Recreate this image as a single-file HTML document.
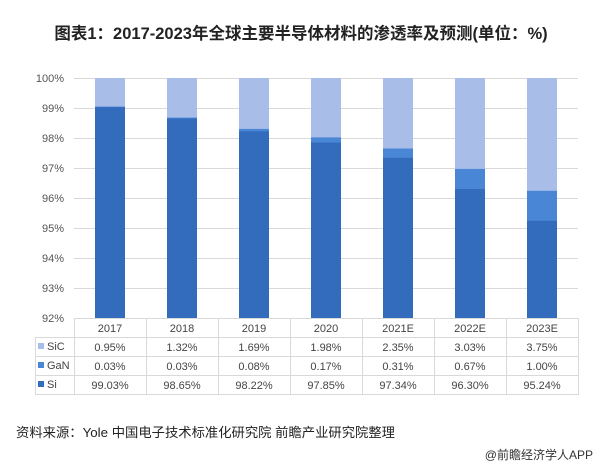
<!DOCTYPE html>
<html><head><meta charset="utf-8"><style>
html,body{margin:0;padding:0;background:#fff;}
svg{display:block;font-family:"Liberation Sans","Noto Sans CJK SC",sans-serif;}
</style></head><body>
<svg width="603" height="468" viewBox="0 0 603 468" xmlns="http://www.w3.org/2000/svg">
<text x="301" y="39" text-anchor="middle" font-size="16.5" font-weight="bold" fill="#222">图表1：2017-2023年全球主要半导体材料的渗透率及预测(单位：%)</text>
<g stroke="#d9d9d9" stroke-width="1">
<line x1="74" x2="578" y1="78.5" y2="78.5"/>
<line x1="74" x2="578" y1="108.5" y2="108.5"/>
<line x1="74" x2="578" y1="138.5" y2="138.5"/>
<line x1="74" x2="578" y1="168.5" y2="168.5"/>
<line x1="74" x2="578" y1="198.5" y2="198.5"/>
<line x1="74" x2="578" y1="228.5" y2="228.5"/>
<line x1="74" x2="578" y1="258.5" y2="258.5"/>
<line x1="74" x2="578" y1="288.5" y2="288.5"/>
<line x1="74" x2="578" y1="318.5" y2="318.5"/>
<line x1="35" x2="578" y1="337.5" y2="337.5"/>
<line x1="35" x2="578" y1="356.5" y2="356.5"/>
<line x1="35" x2="578" y1="375.5" y2="375.5"/>
<line x1="35" x2="578" y1="394.5" y2="394.5"/>
<line x1="35.5" x2="35.5" y1="337" y2="395"/>
<line x1="74.5" x2="74.5" y1="318" y2="395"/>
<line x1="146.5" x2="146.5" y1="318" y2="395"/>
<line x1="218.5" x2="218.5" y1="318" y2="395"/>
<line x1="290.5" x2="290.5" y1="318" y2="395"/>
<line x1="362.5" x2="362.5" y1="318" y2="395"/>
<line x1="434.5" x2="434.5" y1="318" y2="395"/>
<line x1="506.5" x2="506.5" y1="318" y2="395"/>
<line x1="578.5" x2="578.5" y1="318" y2="395"/>
</g>
<g font-size="11" fill="#555" text-anchor="end">
<text x="64" y="82">100%</text><text x="64" y="112">99%</text><text x="64" y="142">98%</text>
<text x="64" y="172">97%</text><text x="64" y="202">96%</text><text x="64" y="232">95%</text>
<text x="64" y="262">94%</text><text x="64" y="292">93%</text><text x="64" y="322">92%</text>
</g>
<g>
<rect x="95" y="78" width="30" height="240" fill="#a9bde9"/><rect x="95" y="106.6" width="30" height="211.4" fill="#4a86d6"/><rect x="95" y="107.1" width="30" height="210.9" fill="#346cbd"/>
<rect x="167" y="78" width="30" height="240" fill="#a9bde9"/><rect x="167" y="117.6" width="30" height="200.4" fill="#4a86d6"/><rect x="167" y="118.5" width="30" height="199.5" fill="#346cbd"/>
<rect x="239" y="78" width="30" height="240" fill="#a9bde9"/><rect x="239" y="128.9" width="30" height="189.1" fill="#4a86d6"/><rect x="239" y="131.4" width="30" height="186.6" fill="#346cbd"/>
<rect x="311" y="78" width="30" height="240" fill="#a9bde9"/><rect x="311" y="137.4" width="30" height="180.6" fill="#4a86d6"/><rect x="311" y="142.5" width="30" height="175.5" fill="#346cbd"/>
<rect x="383" y="78" width="30" height="240" fill="#a9bde9"/><rect x="383" y="148.5" width="30" height="169.5" fill="#4a86d6"/><rect x="383" y="157.8" width="30" height="160.2" fill="#346cbd"/>
<rect x="455" y="78" width="30" height="240" fill="#a9bde9"/><rect x="455" y="168.9" width="30" height="149.1" fill="#4a86d6"/><rect x="455" y="189" width="30" height="129" fill="#346cbd"/>
<rect x="527" y="78" width="30" height="240" fill="#a9bde9"/><rect x="527" y="190.8" width="30" height="127.2" fill="#4a86d6"/><rect x="527" y="220.8" width="30" height="97.2" fill="#346cbd"/>
</g>
<g font-size="11" fill="#444" text-anchor="middle">
<text x="110" y="332">2017</text><text x="182" y="332">2018</text><text x="254" y="332">2019</text><text x="326" y="332">2020</text><text x="398" y="332">2021E</text><text x="470" y="332">2022E</text><text x="542" y="332">2023E</text>
<text x="110" y="351">0.95%</text><text x="182" y="351">1.32%</text><text x="254" y="351">1.69%</text><text x="326" y="351">1.98%</text><text x="398" y="351">2.35%</text><text x="470" y="351">3.03%</text><text x="542" y="351">3.75%</text>
<text x="110" y="370">0.03%</text><text x="182" y="370">0.03%</text><text x="254" y="370">0.08%</text><text x="326" y="370">0.17%</text><text x="398" y="370">0.31%</text><text x="470" y="370">0.67%</text><text x="542" y="370">1.00%</text>
<text x="110" y="389">99.03%</text><text x="182" y="389">98.65%</text><text x="254" y="389">98.22%</text><text x="326" y="389">97.85%</text><text x="398" y="389">97.34%</text><text x="470" y="389">96.30%</text><text x="542" y="389">95.24%</text>
</g>
<rect x="38" y="343" width="6" height="6" fill="#a9bde9"/><text x="47" y="350" font-size="11" fill="#444">SiC</text>
<rect x="38" y="362" width="6" height="6" fill="#4a86d6"/><text x="47" y="369" font-size="11" fill="#444">GaN</text>
<rect x="38" y="381" width="6" height="6" fill="#346cbd"/><text x="47" y="388" font-size="11" fill="#444">Si</text>
<text x="16" y="437" font-size="13" fill="#222" textLength="379" lengthAdjust="spacingAndGlyphs">资料来源：Yole 中国电子技术标准化研究院 前瞻产业研究院整理</text>
<text x="593" y="459" font-size="12" fill="#333" text-anchor="end">@前瞻经济学人APP</text>
</svg>
</body></html>
